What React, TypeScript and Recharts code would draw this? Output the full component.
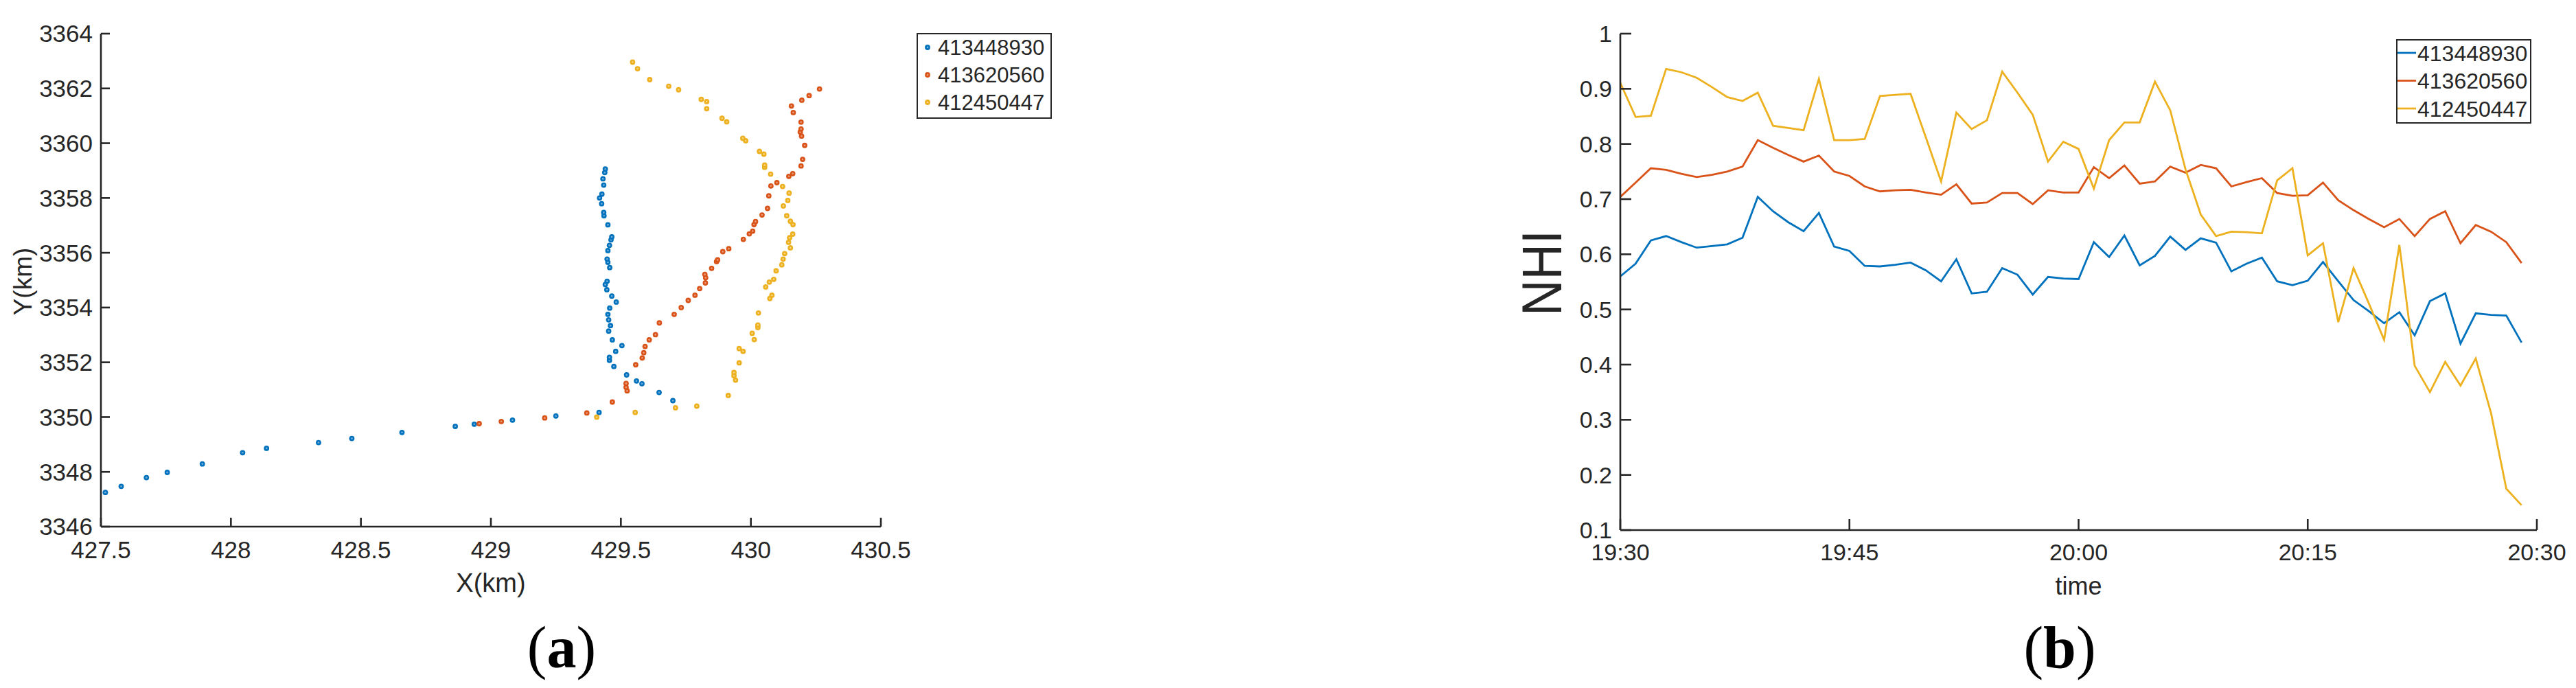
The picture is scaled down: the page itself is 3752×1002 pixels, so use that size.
import React from 'react';
import { ScatterChart, Scatter, LineChart, Line, XAxis, YAxis, Legend, Label } from 'recharts';

const SERIES_NAMES = ['413448930', '413620560', '412450447'];
const COLORS = ['#0072BD', '#D95319', '#EDB120'];
const AXIS = '#262626';
const FONT = '"Liberation Sans", Arial, sans-serif';

// ---------- (a) trajectories ----------
const blueX = [427.517, 427.578, 427.675, 427.755, 427.89, 428.045, 428.137, 428.337, 428.465, 428.658, 428.863, 428.936, 429.083, 429.25, 429.416, 429.70, 429.647, 429.581, 429.56, 429.522, 429.473, 429.456, 429.456, 429.48, 429.504, 429.467, 429.453, 429.46, 429.453, 429.45, 429.457, 429.482, 429.465, 429.446, 429.44, 429.447, 429.457, 429.45, 429.447, 429.45, 429.456, 429.462, 429.465, 429.45, 429.435, 429.434, 429.426, 429.418, 429.427, 429.434, 429.431, 429.438, 429.44];
const blueY = [3347.25, 3347.47, 3347.79, 3347.98, 3348.29, 3348.70, 3348.86, 3349.07, 3349.22, 3349.44, 3349.66, 3349.74, 3349.89, 3350.04, 3350.17, 3350.60, 3350.90, 3351.22, 3351.32, 3351.54, 3351.85, 3352.07, 3352.18, 3352.40, 3352.61, 3352.82, 3353.14, 3353.34, 3353.55, 3353.75, 3353.98, 3354.20, 3354.42, 3354.65, 3354.84, 3354.96, 3355.46, 3355.65, 3355.77, 3356.08, 3356.27, 3356.47, 3356.58, 3357.02, 3357.35, 3357.47, 3357.79, 3358.00, 3358.14, 3358.47, 3358.70, 3358.93, 3359.06];

const redX = [428.955, 429.04, 429.207, 429.369, 429.467, 429.524, 429.52, 429.52, 429.557, 429.582, 429.588, 429.593, 429.609, 429.633, 429.648, 429.705, 429.732, 429.759, 429.785, 429.803, 429.825, 429.826, 429.823, 429.849, 429.868, 429.872, 429.892, 429.915, 429.971, 429.994, 430.007, 430.012, 430.018, 430.043, 430.064, 430.069, 430.077, 430.10, 430.146, 430.161, 430.193, 430.199, 430.207, 430.195, 430.19, 430.193, 430.193, 430.163, 430.156, 430.196, 430.224, 430.264];
const redY = [3349.76, 3349.84, 3349.97, 3350.15, 3350.55, 3350.96, 3351.09, 3351.23, 3351.91, 3352.16, 3352.35, 3352.58, 3352.82, 3353.01, 3353.44, 3353.75, 3354.00, 3354.26, 3354.45, 3354.69, 3354.90, 3355.09, 3355.21, 3355.43, 3355.68, 3355.74, 3356.04, 3356.15, 3356.49, 3356.69, 3356.79, 3357.03, 3357.14, 3357.38, 3357.62, 3358.08, 3358.44, 3358.56, 3358.79, 3358.89, 3359.17, 3359.41, 3359.92, 3360.26, 3360.41, 3360.52, 3360.77, 3361.12, 3361.36, 3361.57, 3361.74, 3361.98];

const yellowX = [429.407, 429.555, 429.71, 429.792, 429.913, 429.941, 429.935, 429.935, 429.955, 429.97, 429.955, 430.013, 430.005, 430.027, 430.027, 430.029, 430.073, 430.081, 430.057, 430.071, 430.088, 430.097, 430.119, 430.124, 430.13, 430.152, 430.145, 430.149, 430.161, 430.162, 430.152, 430.138, 430.125, 430.142, 430.147, 430.122, 430.076, 430.053, 430.053, 430.05, 430.033, 429.98, 429.969, 429.907, 429.889, 429.83, 429.83, 429.809, 429.722, 429.684, 429.611, 429.564, 429.545];
const yellowY = [3350.00, 3350.17, 3350.34, 3350.40, 3350.79, 3351.35, 3351.51, 3351.63, 3351.98, 3352.40, 3352.50, 3352.83, 3353.06, 3353.27, 3353.36, 3353.80, 3354.33, 3354.45, 3354.75, 3354.93, 3355.03, 3355.34, 3355.56, 3355.77, 3355.97, 3356.18, 3356.38, 3356.55, 3356.68, 3357.03, 3357.15, 3357.35, 3357.71, 3357.91, 3358.18, 3358.42, 3358.87, 3359.12, 3359.20, 3359.60, 3359.70, 3360.09, 3360.18, 3360.78, 3360.91, 3361.26, 3361.52, 3361.60, 3361.95, 3362.08, 3362.32, 3362.72, 3362.96];

const xTicksA = [427.5, 428, 428.5, 429, 429.5, 430, 430.5];
const yTicksA = [3346, 3348, 3350, 3352, 3354, 3356, 3358, 3360, 3362, 3364];

// ---------- (b) NHI over time ----------
const times = ['19:30', '19:31', '19:32', '19:33', '19:34', '19:35', '19:36', '19:37', '19:38', '19:39', '19:40', '19:41', '19:42', '19:43', '19:44', '19:45', '19:46', '19:47', '19:48', '19:49', '19:50', '19:51', '19:52', '19:53', '19:54', '19:55', '19:56', '19:57', '19:58', '19:59', '20:00', '20:01', '20:02', '20:03', '20:04', '20:05', '20:06', '20:07', '20:08', '20:09', '20:10', '20:11', '20:12', '20:13', '20:14', '20:15', '20:16', '20:17', '20:18', '20:19', '20:20', '20:21', '20:22', '20:23', '20:24', '20:25', '20:26', '20:27', '20:28', '20:29'];
const nhiBlue = [0.560, 0.583, 0.625, 0.633, 0.622, 0.612, 0.615, 0.618, 0.630, 0.704, 0.678, 0.658, 0.642, 0.675, 0.614, 0.606, 0.579, 0.578, 0.581, 0.585, 0.571, 0.551, 0.591, 0.529, 0.532, 0.575, 0.563, 0.527, 0.559, 0.556, 0.555, 0.622, 0.595, 0.634, 0.580, 0.597, 0.632, 0.608, 0.629, 0.621, 0.569, 0.583, 0.594, 0.551, 0.544, 0.552, 0.586, 0.551, 0.517, 0.497, 0.475, 0.495, 0.453, 0.515, 0.529, 0.438, 0.493, 0.490, 0.489, 0.440];
const nhiRed = [0.704, 0.730, 0.756, 0.753, 0.746, 0.740, 0.744, 0.750, 0.759, 0.807, 0.793, 0.780, 0.768, 0.779, 0.750, 0.742, 0.723, 0.714, 0.716, 0.717, 0.712, 0.708, 0.727, 0.692, 0.694, 0.711, 0.711, 0.691, 0.716, 0.712, 0.712, 0.758, 0.738, 0.761, 0.728, 0.732, 0.759, 0.748, 0.762, 0.756, 0.723, 0.731, 0.738, 0.711, 0.706, 0.707, 0.730, 0.698, 0.680, 0.664, 0.649, 0.664, 0.633, 0.664, 0.678, 0.620, 0.653, 0.641, 0.622, 0.584];
const nhiYellow = [0.911, 0.849, 0.851, 0.936, 0.930, 0.920, 0.903, 0.885, 0.878, 0.893, 0.833, 0.829, 0.825, 0.918, 0.807, 0.807, 0.809, 0.887, 0.889, 0.891, 0.812, 0.732, 0.857, 0.827, 0.843, 0.931, 0.893, 0.853, 0.768, 0.804, 0.791, 0.719, 0.807, 0.839, 0.839, 0.913, 0.861, 0.754, 0.672, 0.633, 0.641, 0.640, 0.638, 0.734, 0.756, 0.598, 0.620, 0.477, 0.575, 0.511, 0.445, 0.617, 0.398, 0.350, 0.405, 0.362, 0.411, 0.312, 0.175, 0.145];
const timeTickLabels = ['19:30', '19:45', '20:00', '20:15', '20:30'];
const nhiTicks = [0.1, 0.2, 0.3, 0.4, 0.5, 0.6, 0.7, 0.8, 0.9, 1];

const toMin = (s: string) => {
  const [h, m] = s.split(':').map(Number);
  return h * 60 + m - (19 * 60 + 30);
};

const pts = (xs: number[], ys: number[]) => xs.map((x, i) => ({ x, y: ys[i] }));
const scatterSets = [pts(blueX, blueY), pts(redX, redY), pts(yellowX, yellowY)];

const nhiTable = times.map((t, i) => ({ t: toMin(t), a: nhiBlue[i], b: nhiRed[i], c: nhiYellow[i] }));
const timeTicks = timeTickLabels.map(toMin);
const timeFmt = (v: number) => timeTickLabels[timeTicks.indexOf(v)] ?? '';

const makeDot = (color: string) => (props: any) => (
  <g>
    <circle cx={props.cx} cy={props.cy} r={3.9} fill={color} />
    <circle cx={props.cx} cy={props.cy} r={1.3} fill="#ffffff" opacity={0.45} />
  </g>
);

const RotLabel = ({ viewBox, text, dxFromLeft, dyFromCenter, fontSize, length }: any) => {
  const cx = viewBox.x + dxFromLeft;
  const cy = viewBox.y + viewBox.height / 2 + dyFromCenter;
  return (
    <text
      x={cx}
      y={cy}
      transform={`rotate(-90 ${cx} ${cy})`}
      textAnchor="middle"
      dy="0.36em"
      fontFamily={FONT}
      fontSize={fontSize}
      fill={AXIS}
      {...(length ? { textLength: length, lengthAdjust: 'spacingAndGlyphs' } : {})}
    >
      {text}
    </text>
  );
};

const LegendBox = ({ payload, kind, width, height, rowTop, rowH, symX, textX, fontSize }: any) => {
  const items = (payload || [])
    .map((p: any) => ({ name: String(p.value), color: p.color }))
    .sort((u: any, v: any) => SERIES_NAMES.indexOf(u.name) - SERIES_NAMES.indexOf(v.name));
  return (
    <div
      style={{
        width,
        height,
        boxSizing: 'border-box',
        border: `2.6px solid ${AXIS}`,
        background: '#fff',
        position: 'relative',
        fontFamily: FONT,
      }}
    >
      <svg width={width} height={height} style={{ position: 'absolute', left: -2.6, top: -2.6 }}>
        {items.map((it: any, i: number) => {
          const cy = rowTop + i * rowH;
          return (
            <g key={it.name}>
              {kind === 'dot' ? (
                <g>
                  <circle cx={symX} cy={cy} r={3.9} fill={it.color} />
                  <circle cx={symX} cy={cy} r={1.3} fill="#fff" opacity={0.45} />
                </g>
              ) : (
                <line x1={symX} x2={symX + 27} y1={cy} y2={cy} stroke={it.color} strokeWidth={2.8} />
              )}
              <text x={textX} y={cy} dy="0.36em" fontSize={fontSize} fill={AXIS} fontFamily={FONT}>
                {it.name}
              </text>
            </g>
          );
        })}
      </svg>
    </div>
  );
};

const tickStyleA = { fill: AXIS, fontSize: 35, fontFamily: FONT };
const tickStyleB = { fill: AXIS, fontSize: 34, fontFamily: FONT };
const lineStyle = { stroke: AXIS, strokeWidth: 2.6 };

export default function App() {
  return (
    <div style={{ position: 'absolute', left: 0, top: 0, width: 3752, height: 1002, background: '#fff', overflow: 'hidden' }}>
      {/* Panel (a) */}
      <div style={{ position: 'absolute', left: 0, top: 0 }}>
        <ScatterChart width={1600} height={1002} margin={{ top: 49, right: 317, bottom: 115, left: 0 }}>
          <XAxis
            type="number"
            dataKey="x"
            domain={[427.5, 430.5]}
            ticks={xTicksA}
            interval={0}
            allowDataOverflow
            height={120}
            tickSize={-13}
            tickMargin={34}
            axisLine={lineStyle}
            tickLine={lineStyle}
            tick={tickStyleA}
          >
            <Label value="X(km)" position="insideBottom" offset={25} style={{ fontSize: 38, fontFamily: FONT, fill: AXIS }} />
          </XAxis>
          <YAxis
            type="number"
            dataKey="y"
            domain={[3346, 3364]}
            ticks={yTicksA}
            interval={0}
            allowDataOverflow
            width={147}
            tickSize={-13}
            tickMargin={25}
            axisLine={lineStyle}
            tickLine={lineStyle}
            tick={tickStyleA}
          >
            <Label
              content={(p: any) => <RotLabel viewBox={p.viewBox} text="Y(km)" dxFromLeft={32.5} dyFromCenter={2} fontSize={37} />}
            />
          </YAxis>
          {scatterSets.map((d, i) => (
            <Scatter
              key={SERIES_NAMES[i]}
              name={SERIES_NAMES[i]}
              data={d}
              fill={COLORS[i]}
              shape={makeDot(COLORS[i])}
              isAnimationActive={false}
            />
          ))}
          <Legend
            layout="vertical"
            align="center"
            verticalAlign="middle"
            wrapperStyle={{ position: 'absolute', left: 1335, top: 48, width: 197, height: 125 }}
            content={(p: any) => (
              <LegendBox payload={p.payload} kind="dot" width={197} height={125} rowTop={22} rowH={40} symX={17} textX={32} fontSize={31} />
            )}
          />
        </ScatterChart>
      </div>

      {/* Panel (b) */}
      <div style={{ position: 'absolute', left: 2100, top: 0 }}>
        <LineChart width={1652} height={1002} data={nhiTable} margin={{ top: 49, right: 57, bottom: 110, left: 110 }}>
          <XAxis
            type="number"
            dataKey="t"
            domain={[0, 60]}
            ticks={timeTicks}
            tickFormatter={timeFmt}
            interval={0}
            allowDataOverflow
            height={120}
            tickSize={-16}
            tickMargin={36}
            axisLine={lineStyle}
            tickLine={lineStyle}
            tick={tickStyleB}
          >
            <Label value="time" position="insideBottom" offset={26} style={{ fontSize: 36, fontFamily: FONT, fill: AXIS }} />
          </XAxis>
          <XAxis
            xAxisId="top"
            orientation="top"
            type="number"
            dataKey="t"
            domain={[0, 60]}
            ticks={timeTicks}
            tickFormatter={() => ''}
            interval={0}
            allowDataOverflow
            height={0}
            tickSize={-16}
            axisLine={lineStyle}
            tickLine={lineStyle}
          />
          <YAxis
            type="number"
            domain={[0.1, 1]}
            ticks={nhiTicks}
            interval={0}
            allowDataOverflow
            width={150}
            tickSize={-16}
            tickMargin={28}
            axisLine={lineStyle}
            tickLine={lineStyle}
            tick={tickStyleB}
          >
            <Label
              content={(p: any) => (
                <RotLabel viewBox={p.viewBox} text="NHI" dxFromLeft={34.5} dyFromCenter={-13} fontSize={82} length={125} />
              )}
            />
          </YAxis>
          <YAxis
            yAxisId="right"
            orientation="right"
            type="number"
            domain={[0.1, 1]}
            ticks={nhiTicks}
            tickFormatter={() => ''}
            interval={0}
            allowDataOverflow
            width={0}
            tickSize={-16}
            axisLine={lineStyle}
            tickLine={lineStyle}
          />
          <Line type="linear" dataKey="a" name={SERIES_NAMES[0]} stroke={COLORS[0]} strokeWidth={2.8} dot={false} isAnimationActive={false} />
          <Line type="linear" dataKey="b" name={SERIES_NAMES[1]} stroke={COLORS[1]} strokeWidth={2.8} dot={false} isAnimationActive={false} />
          <Line type="linear" dataKey="c" name={SERIES_NAMES[2]} stroke={COLORS[2]} strokeWidth={2.8} dot={false} isAnimationActive={false} />
          <Legend
            layout="vertical"
            align="center"
            verticalAlign="middle"
            wrapperStyle={{ position: 'absolute', left: 1390, top: 57, width: 197, height: 123 }}
            content={(p: any) => (
              <LegendBox payload={p.payload} kind="line" width={197} height={123} rowTop={21} rowH={40.5} symX={3} textX={32} fontSize={32} />
            )}
          />
        </LineChart>
      </div>

      {/* Panel captions */}
      <svg width={3752} height={1002} style={{ position: 'absolute', left: 0, top: 0, pointerEvents: 'none' }}>
        <text x={818} y={972} textAnchor="middle" fontFamily='"Liberation Serif", "Times New Roman", serif' fontSize={86} fill="#000">
          (<tspan fontWeight="bold">a</tspan>)
        </text>
        <text x={3000} y={972} textAnchor="middle" fontFamily='"Liberation Serif", "Times New Roman", serif' fontSize={86} fill="#000">
          (<tspan fontWeight="bold">b</tspan>)
        </text>
      </svg>
    </div>
  );
}
